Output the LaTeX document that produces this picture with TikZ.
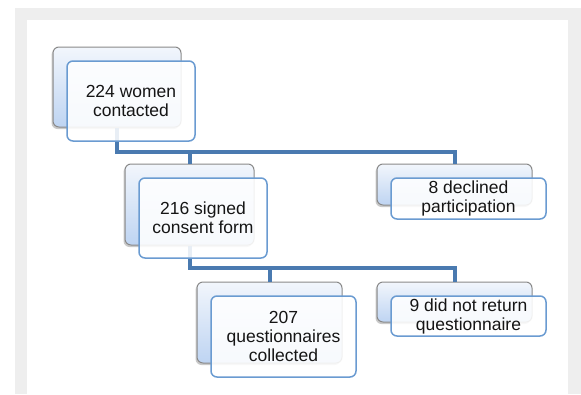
\documentclass[tikz,border=0pt]{standalone}
\usepackage{fontspec}
\setmainfont{Liberation Sans}
\usetikzlibrary{shadows}
\definecolor{panelgray}{HTML}{EEEEEE}
\definecolor{frontblue}{HTML}{6A9BD1}
\definecolor{connblue}{HTML}{4A7AB0}
\definecolor{backtop}{HTML}{F2F6FC}
\definecolor{backbot}{HTML}{BED4F2}
\definecolor{backedge}{HTML}{8A8A8A}
\definecolor{txt}{HTML}{151515}
\tikzset{
  backbox/.style={draw=backedge, line width=1pt, rounded corners=6pt,
    top color=backtop, bottom color=backbot, inner sep=0pt,
    drop shadow={shadow xshift=-1.5pt, shadow yshift=-2pt, opacity=0.35, fill=black!60}},
  frontbox/.style={draw=frontblue, line width=1.5pt, rounded corners=6pt,
    fill=white, fill opacity=0.88, text opacity=1, text=txt, inner sep=0pt,
    align=center, font=\fontsize{17.5}{19}\selectfont},
  conn/.style={draw=connblue, line width=4pt, line join=miter}
}
\begin{document}
\begin{tikzpicture}[x=1pt,y=-1pt]
\useasboundingbox (0,0) rectangle (581,394);
\fill[white] (0,0) rectangle (581,394);
\fill[panelgray] (15,8) rectangle (581,394);
\fill[white] (27,20) rectangle (568,394);
% back boxes
\node[backbox, minimum width=128pt, minimum height=80pt] (b1back) at (117,87) {};
\node[backbox, minimum width=129pt, minimum height=81pt] (b2back) at (189.5,204.5) {};
\node[backbox, minimum width=155pt, minimum height=41pt] (b3back) at (454.5,184.5) {};
\node[backbox, minimum width=145pt, minimum height=81pt] (b4back) at (269.5,322.5) {};
\node[backbox, minimum width=155pt, minimum height=40pt] (b5back) at (454.5,302) {};
% connectors
\coordinate (j1) at (117,152);
\coordinate (j2) at (189.5,268);
\draw[conn] (b1back.south) -- (j1) -| (b3back.north);
\draw[conn] (j1) -| (b2back.north);
\draw[conn] (b2back.south) -- (j2) -| (b5back.north);
\draw[conn] (j2) -| (b4back.north);
% front boxes
\node[frontbox, minimum width=128pt, minimum height=80pt] (b1) at (131,101) {224 women\\contacted};
\node[frontbox, minimum width=128pt, minimum height=80pt] (b2) at (203,218) {216 signed\\consent form};
\node[frontbox, minimum width=155pt, minimum height=41pt] (b3) at (468.5,198.5) {8 declined\\participation};
\node[frontbox, minimum width=145pt, minimum height=81pt] (b4) at (283.5,336.5) {207\\questionnaires\\collected};
\node[frontbox, minimum width=155pt, minimum height=40pt] (b5) at (468.5,316) {9 did not return\\questionnaire};
\end{tikzpicture}
\end{document}
